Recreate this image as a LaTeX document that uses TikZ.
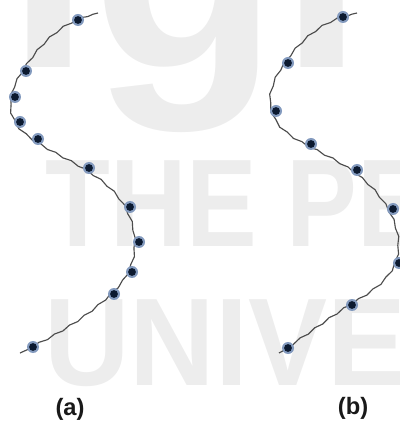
\documentclass[tikz,border=0pt]{standalone}
\usepackage{fontspec}
\setmainfont{Liberation Sans}
\usetikzlibrary{hobby,decorations.pathmorphing}
\definecolor{Wire}{HTML}{4C4C4C}
\definecolor{DotCore}{HTML}{0C1A30}
\definecolor{DotRim}{HTML}{5A78A8}
\definecolor{Mark}{HTML}{EDEDED}

\begin{document}
\begin{tikzpicture}[
  x=0.02cm,y=-0.02cm,
  wire/.style={draw=Wire,line width=0.65pt,decorate,decoration={snake,amplitude=0.45pt,segment length=10pt,pre length=3pt,post length=3pt}},
  bead/.style={circle,fill=DotRim!75,minimum size=0.24cm,inner sep=0pt,path picture={\fill[DotCore] (path picture bounding box.center) circle (0.078cm);}},
  wmark/.style={anchor=base west,inner sep=0pt,text=Mark},
  panellabel/.style={font=\fontsize{13.5}{16}\selectfont\bfseries,text=black!90}
]
\useasboundingbox (0,0) rectangle (399,421);
\begin{scope}
\clip (0,0) rectangle (399,421);
\node[wmark,font=\fontsize{175}{175}\selectfont\bfseries,xscale=1.0] (wtop) at (6,68) {igh};
\node[wmark,font=\fontsize{71}{71}\selectfont\bfseries,xscale=0.85] (wmid) at (45,247) {THE PE};
\node[wmark,font=\fontsize{71}{71}\selectfont\bfseries,xscale=0.95] (wbot) at (44,385) {UNIVE};
\end{scope}
\coordinate (atop) at (98,13);
\coordinate (abot) at (20,353);
\foreach \i/\x/\y in {1/78/20,2/26/71,3/15/97,4/20/122,5/38/139,6/89/168,7/130/207,8/139/242,9/132/272,10/114/294,11/33/347}
  \coordinate (a\i) at (\x,\y);
\coordinate (btop) at (357,13);
\coordinate (bbot) at (279,353);
\foreach \i/\x/\y in {1/343/17,2/288/63,3/276/111,4/311/144,5/357/170,6/393/209,7/399/263,8/352/305,9/288/348}
  \coordinate (b\i) at (\x,\y);
\draw[wire] (atop) to[curve through={(a1) (a2) (a3) (a4) (a5) (a6) (a7) (a8) (a9) (a10) (a11)}] (abot);
\draw[wire] (btop) to[curve through={(b1) (b2) (b3) (b4) (b5) (b6) (b7) (b8) (b9)}] (bbot);
\foreach \i in {1,...,11}
  \node[bead] (da\i) at (a\i) {};
\foreach \i in {1,...,9}
  \node[bead] (db\i) at (b\i) {};
\node[panellabel] (la) at (70,409) {(a)};
\node[panellabel] (lb) at (353,408) {(b)};
\end{tikzpicture}
\end{document}
